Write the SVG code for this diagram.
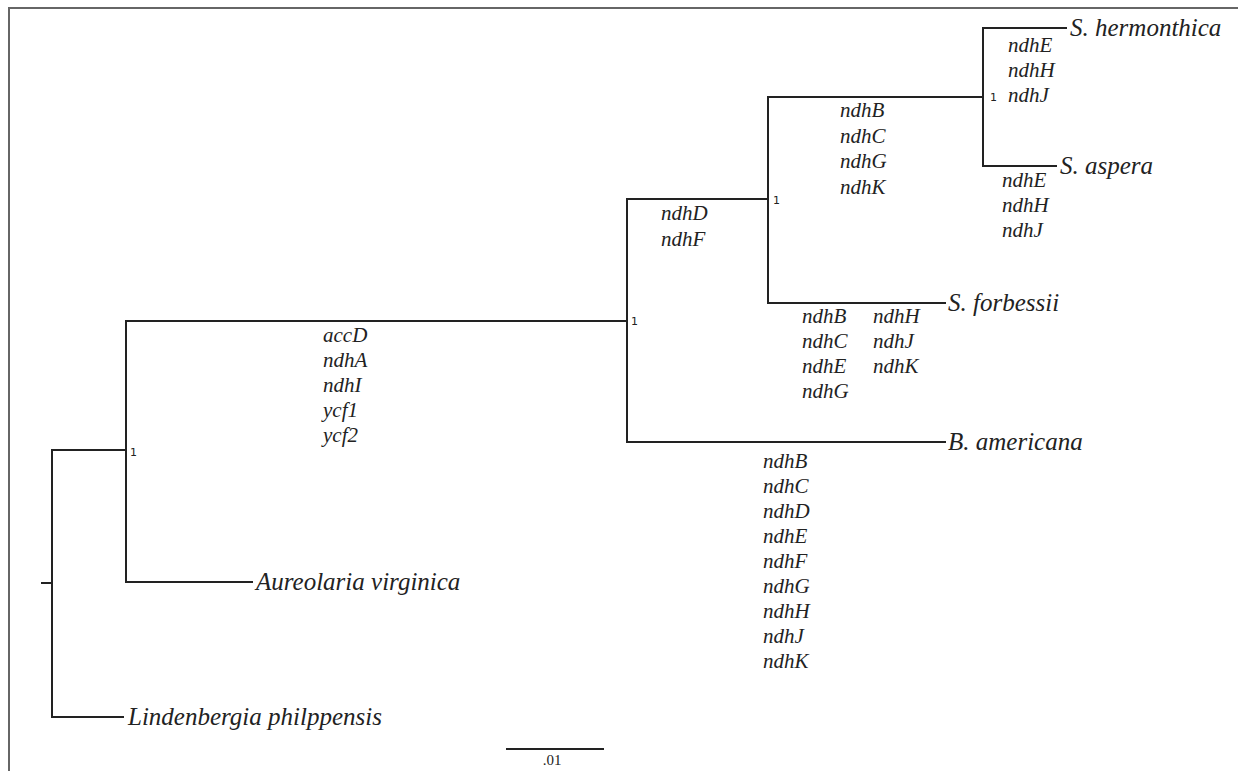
<svg xmlns="http://www.w3.org/2000/svg" width="1238" height="771" viewBox="0 0 1238 771">
<style>
.frame{stroke:#666;stroke-width:2;fill:none}
.br{stroke:#222;stroke-width:2;fill:none;stroke-linecap:square}
.sp{font-family:"Liberation Serif",serif;font-style:italic;font-size:25px;fill:#222}
.gn{font-family:"Liberation Serif",serif;font-style:italic;font-size:21px;fill:#222}
.sup{font-family:"DejaVu Sans",sans-serif;font-size:11px;fill:#222}
.sc{font-family:"Liberation Serif",serif;font-size:15px;fill:#222}
</style>
<rect width="1238" height="771" fill="#fff"/>
<path class="frame" d="M9,771 V8 H1238"/>
<g id="connectors">
<path class="br" d="M42,583 H52"/>
<path class="br" d="M52,450 V717"/>
<path class="br" d="M52,717 H123"/>
<path class="br" d="M52,450 H126"/>
<path class="br" d="M126,321 V582"/>
<path class="br" d="M126,582 H252"/>
<path class="br" d="M126,321 H627"/>
<path class="br" d="M627,199 V442"/>
<path class="br" d="M627,442 H945"/>
<path class="br" d="M627,199 H768"/>
<path class="br" d="M768,97 V303"/>
<path class="br" d="M768,303 H945"/>
<path class="br" d="M768,97 H983"/>
<path class="br" d="M983,28 V166"/>
<path class="br" d="M983,28 H1066"/>
<path class="br" d="M983,166 H1056"/>
</g>
<g id="support">
<text class="sup" x="130" y="456">1</text>
<text class="sup" x="631" y="325">1</text>
<text class="sup" x="773" y="204">1</text>
<text class="sup" x="990" y="101">1</text>
</g>
<g id="node-lindenbergia"><text class="sp" x="128" y="725">Lindenbergia philppensis</text></g>
<g id="node-aureolaria"><text class="sp" x="256" y="590">Aureolaria virginica</text></g>
<g id="node-americana"><text class="sp" x="948" y="450">B. americana</text></g>
<g id="node-forbessii"><text class="sp" x="948" y="311">S. forbessii</text></g>
<g id="node-hermonthica"><text class="sp" x="1070" y="36">S. hermonthica</text></g>
<g id="node-aspera"><text class="sp" x="1060" y="174">S. aspera</text></g>
<g id="genes-ingroup">
<text class="gn" x="323" y="342">accD</text>
<text class="gn" x="323" y="367">ndhA</text>
<text class="gn" x="323" y="392">ndhI</text>
<text class="gn" x="323" y="417">ycf1</text>
<text class="gn" x="323" y="442">ycf2</text>
</g>
<g id="genes-striga">
<text class="gn" x="661" y="220">ndhD</text>
<text class="gn" x="661" y="246">ndhF</text>
</g>
<g id="genes-clade">
<text class="gn" x="840" y="117">ndhB</text>
<text class="gn" x="840" y="143">ndhC</text>
<text class="gn" x="840" y="168">ndhG</text>
<text class="gn" x="840" y="194">ndhK</text>
</g>
<g id="genes-hermonthica">
<text class="gn" x="1008" y="52">ndhE</text>
<text class="gn" x="1008" y="77">ndhH</text>
<text class="gn" x="1008" y="102">ndhJ</text>
</g>
<g id="genes-aspera">
<text class="gn" x="1002" y="187">ndhE</text>
<text class="gn" x="1002" y="212">ndhH</text>
<text class="gn" x="1002" y="237">ndhJ</text>
</g>
<g id="genes-forbessii">
<text class="gn" x="802" y="323">ndhB</text>
<text class="gn" x="802" y="348">ndhC</text>
<text class="gn" x="802" y="373">ndhE</text>
<text class="gn" x="802" y="398">ndhG</text>
<text class="gn" x="873" y="323">ndhH</text>
<text class="gn" x="873" y="348">ndhJ</text>
<text class="gn" x="873" y="373">ndhK</text>
</g>
<g id="genes-americana">
<text class="gn" x="763" y="468">ndhB</text>
<text class="gn" x="763" y="493">ndhC</text>
<text class="gn" x="763" y="518">ndhD</text>
<text class="gn" x="763" y="543">ndhE</text>
<text class="gn" x="763" y="568">ndhF</text>
<text class="gn" x="763" y="593">ndhG</text>
<text class="gn" x="763" y="618">ndhH</text>
<text class="gn" x="763" y="643">ndhJ</text>
<text class="gn" x="763" y="668">ndhK</text>
</g>
<g id="scale-bar">
<path class="br" d="M507,749 H603"/>
<text class="sc" x="552" y="765" text-anchor="middle">.01</text>
</g>
</svg>
